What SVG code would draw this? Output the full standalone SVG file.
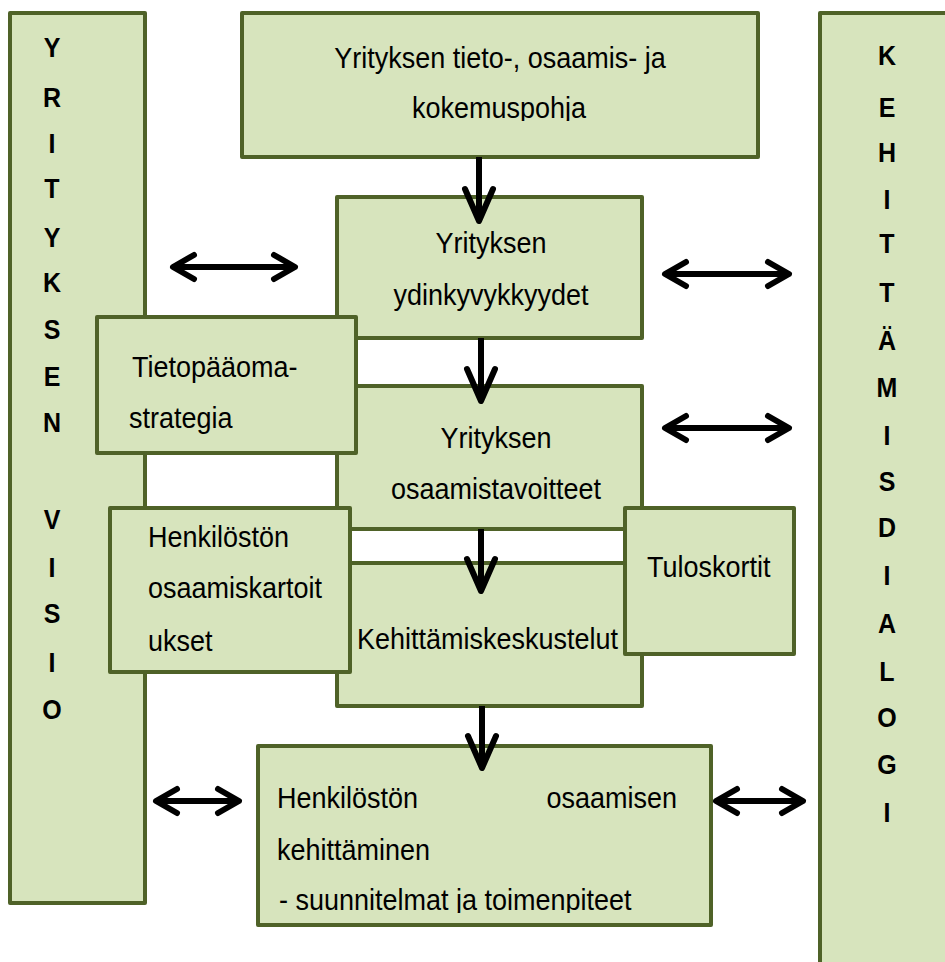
<svg xmlns="http://www.w3.org/2000/svg" width="945" height="962" viewBox="0 0 945 962">
<style>
.box{fill:#d7e4bd;stroke:#4f6228;stroke-width:4;stroke-linejoin:round}
.t{font-family:"Liberation Sans",Arial,sans-serif;font-size:27px;fill:#000}
.b{font-family:"Liberation Sans",Arial,sans-serif;font-size:25px;font-weight:bold;fill:#000;text-anchor:middle}
.c{text-anchor:middle}
.ln{stroke:#000;stroke-width:6;fill:none}
</style>
<defs>
<marker id="hh" markerUnits="userSpaceOnUse" viewBox="-28 -18 34 36" refX="0" refY="0" markerWidth="34" markerHeight="36" orient="auto-start-reverse">
<path d="M-21,-12 L0,0 L-21,12" fill="none" stroke="#000" stroke-width="6" stroke-linecap="round" stroke-linejoin="round"/>
</marker>
<marker id="vh" markerUnits="userSpaceOnUse" viewBox="-38 -20 44 40" refX="0" refY="0" markerWidth="44" markerHeight="40" orient="auto">
<path d="M-32,-14 L0,0 L-32,14" fill="none" stroke="#000" stroke-width="6" stroke-linecap="round" stroke-linejoin="round"/>
</marker>
<clipPath id="clipTop"><rect x="0" y="0" width="945" height="121"/></clipPath>
<clipPath id="clipBot"><rect x="0" y="0" width="945" height="913"/></clipPath>
</defs>

<g id="yrityksen-visio">
<rect class="box" x="10" y="13" width="135" height="890"/>
<text class="b" transform="translate(52 57) scale(1 1.1)">Y</text>
<text class="b" transform="translate(52 107) scale(1 1.1)">R</text>
<text class="b" transform="translate(52 153) scale(1 1.1)">I</text>
<text class="b" transform="translate(52 198) scale(1 1.1)">T</text>
<text class="b" transform="translate(52 247) scale(1 1.1)">Y</text>
<text class="b" transform="translate(52 292) scale(1 1.1)">K</text>
<text class="b" transform="translate(52 339) scale(1 1.1)">S</text>
<text class="b" transform="translate(52 386) scale(1 1.1)">E</text>
<text class="b" transform="translate(52 432) scale(1 1.1)">N</text>
<text class="b" transform="translate(52 529) scale(1 1.1)">V</text>
<text class="b" transform="translate(52 577) scale(1 1.1)">I</text>
<text class="b" transform="translate(52 623) scale(1 1.1)">S</text>
<text class="b" transform="translate(52 672) scale(1 1.1)">I</text>
<text class="b" transform="translate(52 719) scale(1 1.1)">O</text>
</g>

<g id="kehittamisdialogi">
<rect class="box" x="820" y="13" width="200" height="1000"/>
<text class="b" transform="translate(887 65) scale(1 1.1)">K</text>
<text class="b" transform="translate(887 117) scale(1 1.1)">E</text>
<text class="b" transform="translate(887 162) scale(1 1.1)">H</text>
<text class="b" transform="translate(887 209) scale(1 1.1)">I</text>
<text class="b" transform="translate(887 253) scale(1 1.1)">T</text>
<text class="b" transform="translate(887 302) scale(1 1.1)">T</text>
<text class="b" transform="translate(887 350) scale(1 1.1)">Ä</text>
<text class="b" transform="translate(887 397) scale(1 1.1)">M</text>
<text class="b" transform="translate(887 445) scale(1 1.1)">I</text>
<text class="b" transform="translate(887 491) scale(1 1.1)">S</text>
<text class="b" transform="translate(887 537) scale(1 1.1)">D</text>
<text class="b" transform="translate(887 585) scale(1 1.1)">I</text>
<text class="b" transform="translate(887 633) scale(1 1.1)">A</text>
<text class="b" transform="translate(887 681) scale(1 1.1)">L</text>
<text class="b" transform="translate(887 727) scale(1 1.1)">O</text>
<text class="b" transform="translate(887 774) scale(1 1.1)">G</text>
<text class="b" transform="translate(887 822) scale(1 1.1)">I</text>
</g>

<g id="tietopohja">
<rect class="box" x="242" y="13" width="516" height="144"/>
<g clip-path="url(#clipTop)">
<text class="t c" transform="translate(500 68) scale(1 1.1)">Yrityksen tieto-, osaamis- ja</text>
<text class="t c" transform="translate(499 118) scale(1 1.1)">kokemuspohja</text>
</g>
</g>

<g id="ydinkyvykkyydet">
<rect class="box" x="337" y="197" width="305" height="141"/>
<text class="t c" transform="translate(491 253) scale(1 1.1)">Yrityksen</text>
<text class="t c" transform="translate(491 305) scale(1 1.1)">ydinkyvykkyydet</text>
</g>

<g id="osaamistavoitteet">
<rect class="box" x="337" y="386" width="305" height="143"/>
<text class="t c" transform="translate(496 448) scale(1 1.1)">Yrityksen</text>
<text class="t c" transform="translate(496 499) scale(1 1.1)">osaamistavoitteet</text>
</g>

<g id="kehittamiskeskustelut">
<rect class="box" x="337" y="563" width="305" height="143"/>
<text class="t" transform="translate(357 649) scale(1 1.1)">Kehittämiskeskustelut</text>
</g>

<g id="tietopaaomastrategia">
<rect class="box" x="97" y="317" width="259" height="136"/>
<text class="t" transform="translate(132 377) scale(1 1.1)">Tietopääoma-</text>
<text class="t" transform="translate(129 428) scale(1 1.1)">strategia</text>
</g>

<g id="osaamiskartoitukset">
<rect class="box" x="110" y="508" width="240" height="164"/>
<text class="t" transform="translate(148 547) scale(1 1.1)">Henkilöstön</text>
<text class="t" transform="translate(148 598) scale(1 1.1)">osaamiskartoit</text>
<text class="t" transform="translate(148 651) scale(1 1.1)">ukset</text>
</g>

<g id="tuloskortit">
<rect class="box" x="625" y="508" width="169" height="146"/>
<text class="t" transform="translate(647 577) scale(1 1.1)">Tuloskortit</text>
</g>

<g id="osaamisen-kehittaminen">
<rect class="box" x="258" y="746" width="453" height="179"/>
<g clip-path="url(#clipBot)">
<text class="t" transform="translate(277 808) scale(1 1.1)">Henkilöstön</text>
<text class="t" transform="translate(677 808) scale(1 1.1)" text-anchor="end">osaamisen</text>
<text class="t" transform="translate(277 860) scale(1 1.1)">kehittäminen</text>
<text class="t" transform="translate(279 910) scale(1 1.1)"> - suunnitelmat ja toimenpiteet</text>
</g>
</g>

<g id="connectors">
<line class="ln" x1="479" y1="157" x2="479" y2="221" marker-end="url(#vh)"/>
<line class="ln" x1="481" y1="338" x2="481" y2="401" marker-end="url(#vh)"/>
<line class="ln" x1="481" y1="529" x2="481" y2="591" marker-end="url(#vh)"/>
<line class="ln" x1="482" y1="706" x2="482" y2="768" marker-end="url(#vh)"/>
<line class="ln" x1="173" y1="267" x2="295" y2="267" marker-start="url(#hh)" marker-end="url(#hh)"/>
<line class="ln" x1="665" y1="274" x2="789" y2="274" marker-start="url(#hh)" marker-end="url(#hh)"/>
<line class="ln" x1="665" y1="428" x2="789" y2="428" marker-start="url(#hh)" marker-end="url(#hh)"/>
<line class="ln" x1="156" y1="801" x2="239" y2="801" marker-start="url(#hh)" marker-end="url(#hh)"/>
<line class="ln" x1="716" y1="801" x2="803" y2="801" marker-start="url(#hh)" marker-end="url(#hh)"/>
</g>
</svg>
